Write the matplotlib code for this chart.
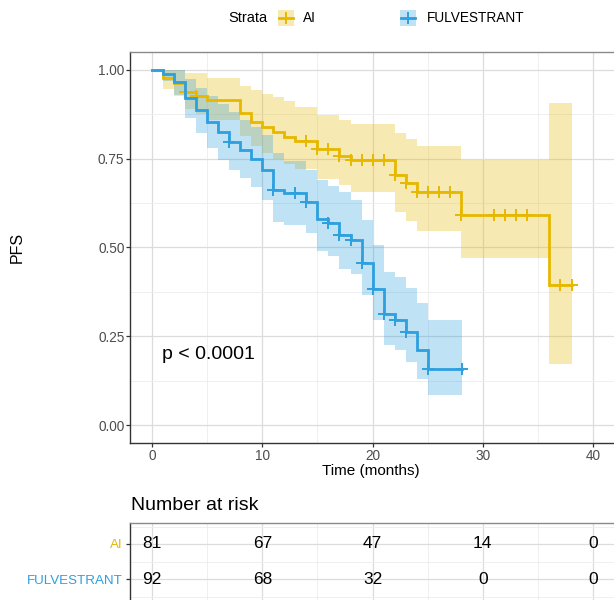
import matplotlib
matplotlib.use("Agg")
import matplotlib.pyplot as plt
from matplotlib.patches import Rectangle
from matplotlib.lines import Line2D
from matplotlib.ticker import MultipleLocator

plt.rcParams['font.family'] = ['Liberation Sans', 'DejaVu Sans']

# ---------------- data ----------------
strata = ["AI", "FULVESTRANT"]
colors = ["#E7B800", "#2E9FDF"]

ai_time = [0, 1, 2, 3, 4, 5, 8, 9, 10, 11, 12, 13, 15, 17, 18, 22, 23, 24, 28, 36]
ai_surv = [1.0, 0.976, 0.963, 0.938, 0.926, 0.914, 0.877, 0.853, 0.840, 0.825, 0.811,
           0.799, 0.776, 0.757, 0.746, 0.704, 0.681, 0.657, 0.591, 0.394]
ai_upper = [1.0, 0.998, 0.998, 0.99, 0.99, 0.978, 0.955, 0.942, 0.933, 0.923, 0.913,
            0.894, 0.872, 0.858, 0.848, 0.822, 0.805, 0.786, 0.746, 0.906]
ai_lower = [1.0, 0.945, 0.925, 0.89, 0.875, 0.86, 0.815, 0.785, 0.765, 0.75, 0.735,
            0.72, 0.694, 0.675, 0.657, 0.60, 0.575, 0.546, 0.47, 0.172]
ai_end = 38.1
ai_censor = [3, 4, 14, 15, 16, 17, 18, 19, 20, 21, 22, 23, 24, 25, 26, 27, 28,
             31, 32, 33, 34, 37, 38.1]

fu_time = [0, 1, 2, 3, 4, 5, 6, 7, 8, 9, 10, 11, 12, 14, 15, 16, 17, 18, 19, 20,
           21, 22, 23, 24, 25]
fu_surv = [1.0, 0.989, 0.966, 0.921, 0.887, 0.853, 0.825, 0.797, 0.773, 0.750, 0.717,
           0.662, 0.653, 0.629, 0.580, 0.569, 0.535, 0.521, 0.455, 0.384, 0.312,
           0.296, 0.263, 0.211, 0.157]
fu_upper = [1.0, 1.0, 1.0, 0.975, 0.95, 0.925, 0.905, 0.88, 0.86, 0.84, 0.817, 0.765,
            0.742, 0.718, 0.69, 0.672, 0.655, 0.635, 0.577, 0.507, 0.432, 0.418,
            0.385, 0.343, 0.296]
fu_lower = [1.0, 0.968, 0.93, 0.865, 0.822, 0.78, 0.746, 0.718, 0.696, 0.67, 0.634,
            0.573, 0.562, 0.54, 0.49, 0.477, 0.44, 0.426, 0.366, 0.296, 0.225,
            0.211, 0.178, 0.129, 0.085]
fu_end = 28.1
fu_censor = [7, 11, 13, 14, 16, 17, 18, 19, 20, 21, 22, 23, 25, 28.1]

risk_times = [0, 10, 20, 30, 40]
risk_ai = [81, 67, 47, 14, 0]
risk_fu = [92, 68, 32, 0, 0]

x_ticks = [0, 10, 20, 30, 40]
y_ticks = [0.0, 0.25, 0.5, 0.75, 1.0]
y_ticklabels = ["0.00", "0.25", "0.50", "0.75", "1.00"]
pval_text = "p < 0.0001"

# ---------------- figure ----------------
W, H = 614, 600
fig = plt.figure(figsize=(W / 100, H / 100), dpi=100)

def fx(px):
    return px / W

def fy(py):
    return 1 - py / H

XLIM = (-2.0, 41.9)
ax = fig.add_axes([fx(130), fy(443), fx(614) - fx(130), (443 - 52) / H])
ax.set_xlim(*XLIM)
ax.set_ylim(-0.05, 1.05)

grid_major = "#DCDCDC"
grid_minor = "#EDEDED"
ax.set_xticks(x_ticks)
ax.xaxis.set_minor_locator(MultipleLocator(5))
ax.yaxis.set_minor_locator(MultipleLocator(0.125))
ax.set_yticks(y_ticks)
ax.set_yticklabels(y_ticklabels)
ax.grid(True, which="major", color=grid_major, lw=0.9)
ax.grid(True, which="minor", color=grid_minor, lw=0.6)
ax.set_axisbelow(True)
ax.tick_params(which="minor", length=0)
ax.tick_params(which="major", length=3.0, width=0.9, color="#333333",
               labelsize=9.8, labelcolor="#4D4D4D", pad=1.0)
for s in ["left", "bottom"]:
    ax.spines[s].set_color("#333333")
    ax.spines[s].set_linewidth(1.0)
ax.spines["top"].set_color("#8A8A8A")
ax.spines["top"].set_linewidth(1.0)
ax.spines["right"].set_visible(False)

def draw_group(t, s, lo, hi, end, cens, col):
    tt = list(t) + [end]
    ss = list(s) + [s[-1]]
    ll = list(lo) + [lo[-1]]
    uu = list(hi) + [hi[-1]]
    ax.fill_between(tt, ll, uu, step="post", color=col, alpha=0.3, lw=0)
    ax.step(tt, ss, where="post", color=col, lw=2.0, solid_joinstyle="miter")
    cy = []
    for c in cens:
        idx = max(i for i, ti in enumerate(t) if ti <= c)
        cy.append(s[idx])
    ax.plot(cens, cy, ls="none", marker="+", ms=9, mew=1.4, color=col)

draw_group(ai_time, ai_surv, ai_lower, ai_upper, ai_end, ai_censor, colors[0])
draw_group(fu_time, fu_surv, fu_lower, fu_upper, fu_end, fu_censor, colors[1])

ax.text(0.9, 0.2, pval_text, fontsize=14, ha="left", va="center", color="black")

fig.text(fx(17), fy(247), "PFS", rotation=90, ha="center", va="center", fontsize=11.5)
fig.text(fx(371), fy(471), "Time (months)", ha="center", va="center", fontsize=11)

# ---------------- legend ----------------
ly = 18
fig.text(fx(228), fy(ly), "Strata", ha="left", va="center", fontsize=10.5)
for name, col, kx, tx in [(strata[0], colors[0], 278, 303), (strata[1], colors[1], 400, 427)]:
    fig.patches.append(Rectangle((fx(kx), fy(ly + 8)), 16 / W, 16 / H,
                                 transform=fig.transFigure, facecolor=col,
                                 alpha=0.3, edgecolor="none"))
    fig.lines.append(Line2D([fx(kx + 1), fx(kx + 15)], [fy(ly), fy(ly)],
                            transform=fig.transFigure, color=col, lw=2.0))
    fig.lines.append(Line2D([fx(kx + 8), fx(kx + 8)], [fy(ly - 5), fy(ly + 5)],
                            transform=fig.transFigure, color=col, lw=1.4))
    fig.text(fx(tx), fy(ly), name, ha="left", va="center", fontsize=9.8,
             color="black")

# ---------------- risk table ----------------
fig.text(fx(131), fy(506), "Number at risk", ha="left", va="center", fontsize=14)
axt = fig.add_axes([fx(130), 0, fx(614) - fx(130), 77 / H])
axt.set_xlim(*XLIM)
axt.set_ylim(0.4, 2.6)
axt.set_xticks(x_ticks)
axt.xaxis.set_minor_locator(MultipleLocator(5))
axt.set_yticks([2, 1])
axt.set_yticklabels(strata)
axt.yaxis.set_minor_locator(MultipleLocator(0.5))
for lab, col in zip(axt.get_yticklabels(), colors):
    lab.set_color(col)
axt.grid(True, which="major", color=grid_major, lw=0.9)
axt.grid(True, which="minor", color=grid_minor, lw=0.6)
axt.set_axisbelow(True)
axt.tick_params(axis="x", which="both", length=0, labelbottom=False)
axt.tick_params(axis="y", which="minor", length=0)
axt.tick_params(axis="y", which="major", length=3.0, width=0.9, color="#333333",
                labelsize=9.6, pad=2)
axt.spines["left"].set_color("#333333")
axt.spines["left"].set_linewidth(1.0)
axt.spines["top"].set_color("#8A8A8A")
axt.spines["top"].set_linewidth(1.0)
axt.spines["right"].set_visible(False)
axt.spines["bottom"].set_visible(False)
for row, vals in [(2, risk_ai), (1, risk_fu)]:
    for t, n in zip(risk_times, vals):
        axt.text(t, row, str(n), ha="center", va="center", fontsize=12.5)

fig.savefig("out.png", dpi=100)
